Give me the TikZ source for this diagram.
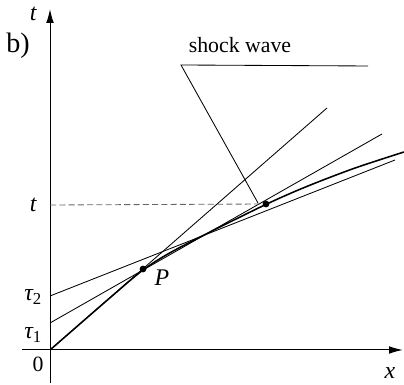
\documentclass[tikz,border=0pt]{standalone}
\usepackage{fontspec}
\setmainfont{Liberation Serif}
\usetikzlibrary{arrows.meta,positioning,calc}

\begin{document}
\begin{tikzpicture}[
  lbl/.style={font=\fontsize{15.5}{18}\selectfont},
  mlbl/.style={font=\fontsize{17}{20}\selectfont\itshape},
  axis/.style={line width=0.7pt,-{Latex[length=0.34cm,width=0.19cm]}},
  charline/.style={line width=0.6pt},
  shock/.style={line width=1.1pt},
  dot/.style={circle,fill,inner sep=0pt,minimum size=0.17cm}]
\useasboundingbox (-1.25,-0.875) rectangle (8.85,8.75);
% axes
\coordinate (xs) at (-0.7,0);
\coordinate (xe) at (8.82,0);
\coordinate (ys) at (0,-0.825);
\coordinate (ye) at (0,8.52);
\draw[axis] (xs) -- (xe);
\draw[axis] (ys) -- (ye);
\node[mlbl] (tlab) at (-0.42,8.4) {t};
\node[mlbl] (xlab) at (8.5,-0.58) {x};
\node[font=\fontsize{20}{24}\selectfont] (blab) at (-0.8,7.6) {b)};
\node[lbl] (zero) at (-0.3,-0.37) {0};
% start points on the t axis
\coordinate (o) at (0,0);
\coordinate (a1) at (0,0.675);
\coordinate (a2) at (0,1.35);
\coordinate (tm) at (0,3.625);
\node[mlbl] (tau1) at (-0.42,0.38) {τ\textsubscript{\upshape 1}};
\node[mlbl] (tau2) at (-0.42,1.33) {τ\textsubscript{\upshape 2}};
\node[mlbl] (tt) at (-0.42,3.625) {t};
% characteristics
\coordinate (e0) at (6.925,6.05);
\coordinate (e1) at (8.3,5.4);
\coordinate (e2) at (8.625,4.75);
\draw[charline] (o) -- (e0);
\draw[charline] (a1) -- (e1);
\draw[charline] (a2) -- (e2);
% shock curve
\draw[shock] plot[smooth,tension=0.5] coordinates {(0,0) (1.5,1.305) (2.325,2.0) (3.0,2.43) (4,2.95) (5.4,3.64) (6.4,4.08) (7.6,4.54) (8.85,4.95)};
\node[dot] (P) at (2.325,2.025) {};
\node[mlbl] (Plab) at (2.8,1.8) {P};
\node[dot] (S) at (5.4,3.65) {};
\draw[black!60,line width=0.6pt,dash pattern=on 4.3pt off 2.3pt] (tm) -- (S);
% label of the shock
\node[lbl] (swlab) at (4.75,7.63) {shock wave};
\coordinate (sw1) at (3.275,7.125);
\coordinate (sw2) at (7.95,7.1);
\coordinate (sw3) at (5.2,3.675);
\draw[charline] (sw2) -- (sw1) -- (sw3);
\end{tikzpicture}
\end{document}
